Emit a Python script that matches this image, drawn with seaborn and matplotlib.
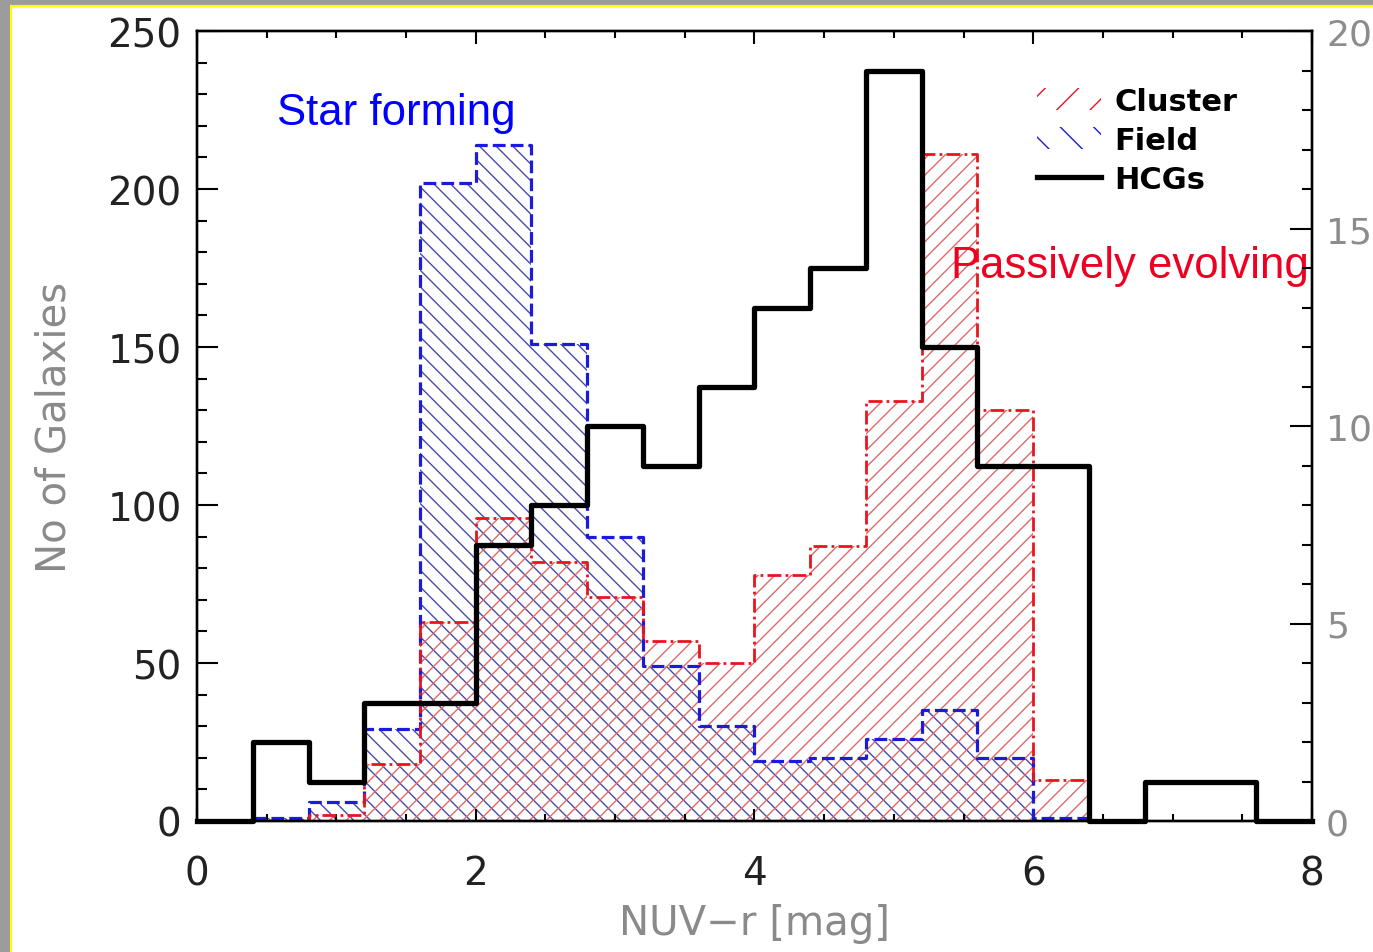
import numpy as np
import matplotlib
matplotlib.use("Agg")
import matplotlib.pyplot as plt
from matplotlib.patches import Patch, Rectangle
from matplotlib.lines import Line2D
from matplotlib.ticker import MultipleLocator
import seaborn as sns

# ---------------- data ----------------
bin_width = 0.4
# HCGs (right axis)
hcg_bin_lefts = [0.0, 0.4, 0.8, 1.2, 1.6, 2.0, 2.4, 2.8, 3.2, 3.6,
                 4.0, 4.4, 4.8, 5.2, 5.6, 6.0, 6.4, 6.8, 7.2, 7.6]
hcg_counts = [0, 2, 1, 3, 3, 7, 8, 10, 9, 11,
              13, 14, 19, 12, 9, 9, 0, 1, 1, 0]
# Cluster / Field (left axis)
sample_bin_lefts = [0.4, 0.8, 1.2, 1.6, 2.0, 2.4, 2.8, 3.2,
                    3.6, 4.0, 4.4, 4.8, 5.2, 5.6, 6.0, 6.4]
field_counts = [1, 6, 29, 202, 214, 151, 90, 49,
                30, 19, 20, 26, 35, 20, 1, 0]
cluster_counts = [0, 2, 18, 63, 96, 82, 71, 57,
                  50, 78, 87, 133, 211, 130, 13, 0]

left_ticks = [0, 50, 100, 150, 200, 250]
right_ticks = [0, 5, 10, 15, 20]
x_ticks = [0, 2, 4, 6, 8]
series_labels = ["Cluster", "Field", "HCGs"]

# ---------------- style ----------------
plt.rcParams["hatch.linewidth"] = 1.0
plt.rcParams["font.family"] = ["DejaVu Sans"]

c_red_edge = "#e8141e"
c_red_hatch = "#e06a6a"
c_blue_edge = "#1c1cd8"
c_blue_hatch = "#4a4aa8"

fig = plt.figure(figsize=(13.73, 9.53), dpi=100)
fig.patch.set_facecolor("#9c9c9c")
fig.patches.append(Rectangle((11 / 1373, -0.05), 1.1, 1.05 - 7 / 953,
                             transform=fig.transFigure, facecolor="white",
                             edgecolor="#ffff00", linewidth=1.5, zorder=-10))

ax = fig.add_axes([197 / 1373, 131 / 953, 1115 / 1373, 790 / 953])
ax.set_facecolor("none")


def edges_of(lefts):
    l = list(lefts)
    return [float(v) for v in l] + [round(l[-1] + bin_width, 6)]


def centers_of(lefts):
    return np.asarray(lefts, dtype=float) + bin_width / 2


s_edges = edges_of(sample_bin_lefts)
s_cent = centers_of(sample_bin_lefts)

# hatched fills
sns.histplot(x=s_cent, weights=field_counts, bins=s_edges, element="step",
             fill=True, color=c_blue_hatch, facecolor="none",
             edgecolor=c_blue_hatch, linewidth=0,
             hatch="\\\\", alpha=1, ax=ax)
sns.histplot(x=s_cent, weights=cluster_counts, bins=s_edges, element="step",
             fill=True, color=c_red_hatch, facecolor="none",
             edgecolor=c_red_hatch, linewidth=0,
             hatch="//", alpha=1, ax=ax)
# outlines
sns.histplot(x=s_cent, weights=field_counts, bins=s_edges, element="step",
             fill=False, color=c_blue_edge, linewidth=2.3,
             linestyle=(0, (4, 1.6)), alpha=1, ax=ax)
sns.histplot(x=s_cent, weights=cluster_counts, bins=s_edges, element="step",
             fill=False, color=c_red_edge, linewidth=2.0,
             linestyle=(0, (5, 1.5, 1, 1.5)), alpha=1, ax=ax)

ax.set_xlim(0, 8)
ax.set_ylim(0, 250)

# HCGs on the right axis
ax2 = ax.twinx()
sns.histplot(x=centers_of(hcg_bin_lefts), weights=hcg_counts,
             bins=edges_of(hcg_bin_lefts), element="step", fill=False,
             color="black", linewidth=3.8, alpha=1, ax=ax2, clip_on=False)
ax2.set_ylim(0, 20)
ax2.set_xlim(0, 8)

# ---------------- axes styling ----------------
for a in (ax, ax2):
    for sp in a.spines.values():
        sp.set_linewidth(1.7)
        sp.set_color("black")

ax.set_xticks(x_ticks)
ax.set_yticks(left_ticks)
ax.xaxis.set_minor_locator(MultipleLocator(0.5))
ax.yaxis.set_minor_locator(MultipleLocator(10))
ax.tick_params(axis="y", which="major", direction="in", length=15, width=1.5,
               left=True, right=False, labelsize=28, pad=11, labelcolor="#222222")
ax.tick_params(axis="y", which="minor", direction="in", length=7.5, width=1.5,
               left=True, right=False)
ax.tick_params(axis="x", which="major", direction="in", length=9, width=1.5,
               top=True, bottom=True, labelsize=28, pad=24, labelcolor="#222222")
ax.tick_params(axis="x", which="minor", direction="in", length=5, width=1.5,
               top=True, bottom=True)

ax2.set_yticks(right_ticks)
ax2.yaxis.set_minor_locator(MultipleLocator(1))
ax2.tick_params(axis="y", which="major", direction="in", length=16, width=1.5,
                labelsize=26, pad=10, labelcolor="#8c8c8c")
ax2.tick_params(axis="y", which="minor", direction="in", length=7.5, width=1.5)
ax2.set_ylabel("")
ax2.set_xlabel("")

ax.set_xlabel("NUV\u2212r [mag]", fontsize=29, color="#8a8a8a", labelpad=8)
ax.set_ylabel("No of Galaxies", fontsize=29, color="#8a8a8a", labelpad=24)

# annotations
ax.text(0.574, 220.5, "Star forming", color="#0000ff", fontsize=31.5,
        family=["Liberation Sans", "DejaVu Sans"], va="baseline", ha="left")
ax.text(5.41, 172, "Passively evolving", color="#ee0022", fontsize=31.5,
        family=["Liberation Sans", "DejaVu Sans"], va="baseline", ha="left",
        zorder=5)

# legend
handles = [
    Patch(facecolor="none", edgecolor=c_red_edge, hatch="/", linewidth=0),
    Patch(facecolor="none", edgecolor=c_blue_edge, hatch="\\", linewidth=0),
    Line2D([], [], color="black", linewidth=3.8),
]
leg = ax2.legend(handles, series_labels, loc="upper left",
                 bbox_to_anchor=(0.742, 0.945), frameon=False,
                 prop={"weight": "bold", "size": 22}, handlelength=2.1,
                 handleheight=0.7, handletextpad=0.45, labelspacing=0.33,
                 borderaxespad=0)

fig.savefig("out.png", dpi=100, facecolor=fig.get_facecolor())
